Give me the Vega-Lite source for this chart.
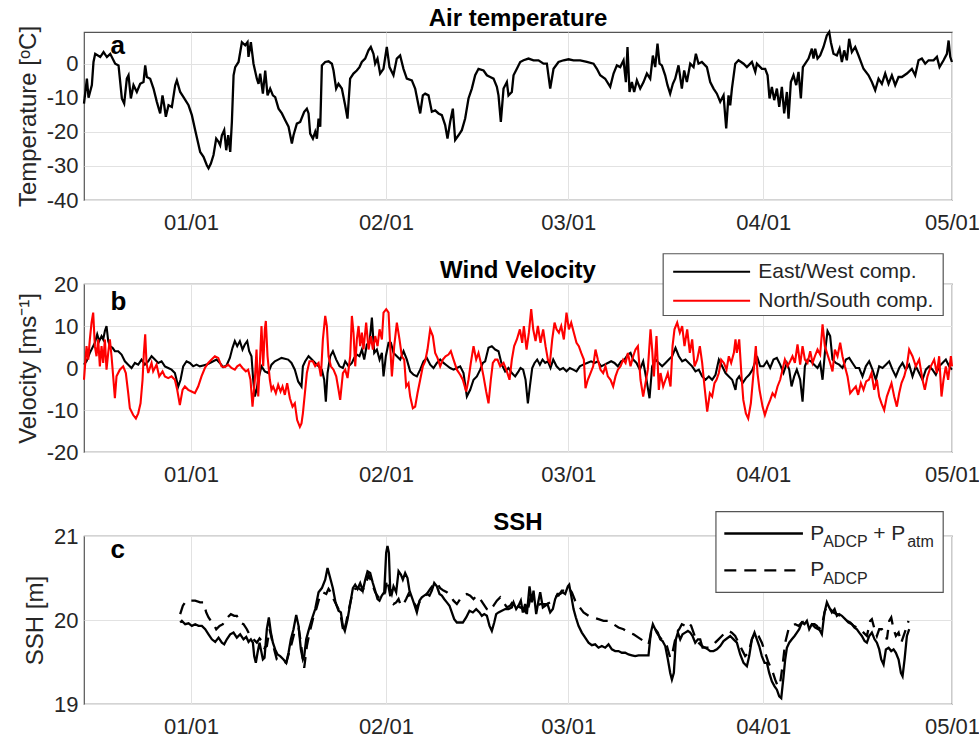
{
"$schema": "https://vega.github.io/schema/vega-lite/v6.json",
"background": "white",
"padding": {"left": 15, "top": 6, "right": 0, "bottom": 0},
"bounds": "flush",
"spacing": 84,
"config": {
  "font": "Liberation Sans",
  "view": {"stroke": "#555555", "strokeWidth": 1.2},
  "axis": {"grid": true, "gridColor": "#e2e2e2", "gridWidth": 1, "domain": false, "ticks": false,
    "labelFont": "Liberation Sans", "labelFontSize": 22, "labelColor": "#262626",
    "titleFont": "Liberation Sans", "titleFontSize": 24, "titleFontWeight": "normal", "titleColor": "#262626"},
  "axisX": {"labelPadding": 12, "labelFlush": false, "labelOverlap": false, "labelBound": false},
  "axisY": {"labelPadding": 6, "titlePadding": 6, "labelExpr": "'' + datum.value"}
},
"datasets": {
"temp": [{"d":0,"v":-11.7},{"d":0.46,"v":-4.4},{"d":0.72,"v":-10},{"d":1.25,"v":-6.3},{"d":1.51,"v":0.5},{"d":1.78,"v":2.9},{"d":2.58,"v":1.95},{"d":3.11,"v":3.4},{"d":3.64,"v":1.95},{"d":4.17,"v":2.9},{"d":4.96,"v":0},{"d":5.49,"v":-0.5},{"d":6.02,"v":-10.2},{"d":6.39,"v":-11.7},{"d":6.81,"v":-4.4},{"d":7.08,"v":-3.4},{"d":7.45,"v":-10.2},{"d":7.87,"v":-6.3},{"d":8.4,"v":-8.3},{"d":8.93,"v":-5.9},{"d":9.46,"v":-5.4},{"d":9.73,"v":-0.5},{"d":9.99,"v":-3.9},{"d":10.52,"v":-4.4},{"d":11.05,"v":-7.3},{"d":11.58,"v":-11.2},{"d":12.11,"v":-14.6},{"d":12.48,"v":-9.3},{"d":12.75,"v":-12.2},{"d":13.01,"v":-15.6},{"d":13.44,"v":-12.2},{"d":13.97,"v":-12.7},{"d":14.5,"v":-6.3},{"d":14.76,"v":-4.9},{"d":15.29,"v":-8.3},{"d":15.82,"v":-9.8},{"d":16.62,"v":-12.2},{"d":17.15,"v":-15.1},{"d":17.68,"v":-19.5},{"d":18.47,"v":-25.9},{"d":19,"v":-27.3},{"d":19.53,"v":-29.8},{"d":19.8,"v":-30.7},{"d":20.17,"v":-29.3},{"d":20.59,"v":-26.8},{"d":21.02,"v":-22},{"d":21.39,"v":-22.9},{"d":21.65,"v":-23.9},{"d":21.92,"v":-21},{"d":22.29,"v":-19.5},{"d":22.61,"v":-25.4},{"d":22.93,"v":-21},{"d":23.25,"v":-25.9},{"d":23.51,"v":-17.1},{"d":23.78,"v":-3.4},{"d":24.04,"v":-1},{"d":24.57,"v":0.5},{"d":25.1,"v":6.3},{"d":25.63,"v":5.4},{"d":26,"v":6.3},{"d":26.15,"v":2},{"d":26.53,"v":6.3},{"d":26.95,"v":0},{"d":27.48,"v":-4.4},{"d":27.75,"v":-5.9},{"d":28.01,"v":-2.9},{"d":28.44,"v":-8.8},{"d":28.81,"v":-2},{"d":29.18,"v":-9.3},{"d":29.6,"v":-7.3},{"d":30.03,"v":-9.3},{"d":30.4,"v":-9.8},{"d":30.93,"v":-13.2},{"d":31.46,"v":-14.6},{"d":31.99,"v":-16.6},{"d":32.52,"v":-18.5},{"d":33.05,"v":-23.4},{"d":33.31,"v":-21},{"d":33.84,"v":-17.6},{"d":34.37,"v":-17.1},{"d":35.01,"v":-14.1},{"d":35.43,"v":-13.2},{"d":35.7,"v":-14.6},{"d":35.96,"v":-20.5},{"d":36.39,"v":-22},{"d":36.76,"v":-20},{"d":37.03,"v":-22},{"d":37.29,"v":-16.1},{"d":37.56,"v":-18.5},{"d":37.82,"v":-0.5},{"d":38.35,"v":0.5},{"d":38.88,"v":0.7},{"d":39.41,"v":0},{"d":39.67,"v":-2},{"d":40.09,"v":-7.3},{"d":40.46,"v":-5.9},{"d":40.99,"v":-7.3},{"d":41.52,"v":-12.2},{"d":41.89,"v":-16.1},{"d":42.31,"v":-4.4},{"d":42.84,"v":-2.9},{"d":43.37,"v":-2},{"d":43.8,"v":-1},{"d":44.17,"v":0.5},{"d":44.7,"v":1.5},{"d":45.23,"v":3.9},{"d":45.6,"v":4.9},{"d":46.02,"v":2.9},{"d":46.29,"v":0},{"d":46.66,"v":1.5},{"d":47.08,"v":-2.9},{"d":47.61,"v":-1.5},{"d":48.14,"v":4.9},{"d":48.57,"v":-1},{"d":49.2,"v":-3.4},{"d":49.73,"v":1.5},{"d":50.26,"v":2.4},{"d":50.79,"v":-1.5},{"d":51.32,"v":-4.4},{"d":52.12,"v":-4.9},{"d":52.65,"v":-7.3},{"d":53.18,"v":-12.2},{"d":53.45,"v":-14.6},{"d":53.87,"v":-9.3},{"d":54.24,"v":-8.8},{"d":54.77,"v":-9.3},{"d":55.3,"v":-14.1},{"d":55.83,"v":-13.7},{"d":56.36,"v":-14.6},{"d":56.89,"v":-15.1},{"d":57.42,"v":-18},{"d":57.79,"v":-22},{"d":58.21,"v":-17.1},{"d":58.64,"v":-13.2},{"d":59.01,"v":-22.4},{"d":59.54,"v":-21},{"d":60.07,"v":-19.5},{"d":60.6,"v":-16.1},{"d":61.13,"v":-10.2},{"d":61.66,"v":-7.3},{"d":62.19,"v":-3.4},{"d":62.72,"v":-1.5},{"d":63.52,"v":-2},{"d":64.05,"v":-3.4},{"d":64.58,"v":-3.9},{"d":65.11,"v":-4.4},{"d":65.64,"v":-6.8},{"d":65.9,"v":-9.3},{"d":66.27,"v":-17.1},{"d":66.7,"v":-7.3},{"d":67.23,"v":-5.4},{"d":67.49,"v":-9.3},{"d":68.02,"v":-8.3},{"d":68.29,"v":-3.4},{"d":68.82,"v":-1.5},{"d":69.35,"v":0.5},{"d":69.88,"v":1},{"d":70.67,"v":1.5},{"d":71.47,"v":1},{"d":72.26,"v":1},{"d":73.06,"v":0},{"d":73.59,"v":0},{"d":74.12,"v":-7.3},{"d":74.65,"v":-1.5},{"d":75.44,"v":0.5},{"d":76.24,"v":1},{"d":77.04,"v":1.3},{"d":77.83,"v":1},{"d":78.89,"v":1},{"d":79.95,"v":0.5},{"d":81.01,"v":0},{"d":81.54,"v":-1.5},{"d":82.07,"v":-3.4},{"d":82.86,"v":-4.4},{"d":83.66,"v":-6.8},{"d":84.19,"v":-2.9},{"d":84.72,"v":-0.5},{"d":85.25,"v":-1},{"d":85.78,"v":1},{"d":86.15,"v":-5.4},{"d":86.41,"v":4.9},{"d":86.73,"v":-8.3},{"d":87.1,"v":-5.4},{"d":87.47,"v":-8.3},{"d":87.9,"v":-4.9},{"d":88.43,"v":-7.3},{"d":88.96,"v":-5.4},{"d":89.49,"v":-2.9},{"d":90.02,"v":-4.4},{"d":90.44,"v":2.4},{"d":90.81,"v":-1},{"d":91.18,"v":5.9},{"d":91.5,"v":0},{"d":91.87,"v":-0.5},{"d":92.4,"v":-3.4},{"d":92.77,"v":-6.3},{"d":93.19,"v":-8.8},{"d":93.62,"v":-5.9},{"d":93.99,"v":-4.4},{"d":94.52,"v":-0.5},{"d":95.05,"v":-7.3},{"d":95.42,"v":-2},{"d":95.85,"v":-5.4},{"d":96.38,"v":0},{"d":96.91,"v":-1},{"d":97.28,"v":2.9},{"d":97.7,"v":0},{"d":98.23,"v":0.5},{"d":99.03,"v":-1},{"d":99.56,"v":-5.4},{"d":100.09,"v":-7.3},{"d":100.62,"v":-8.8},{"d":101.15,"v":-11.2},{"d":101.68,"v":-9.3},{"d":102.1,"v":-19},{"d":102.47,"v":-9.3},{"d":102.74,"v":-12.2},{"d":103.01,"v":-7.3},{"d":103.54,"v":0},{"d":104.06,"v":1},{"d":104.86,"v":0},{"d":105.39,"v":-1},{"d":106.19,"v":0.5},{"d":106.72,"v":-2.4},{"d":106.98,"v":0},{"d":107.78,"v":-1.5},{"d":108.3,"v":-1.5},{"d":108.68,"v":-3.4},{"d":108.99,"v":-10.2},{"d":109.36,"v":-6.8},{"d":109.73,"v":-10.7},{"d":110.16,"v":-7.3},{"d":110.53,"v":-12.7},{"d":110.95,"v":-6.8},{"d":111.32,"v":-14.6},{"d":111.75,"v":-8.3},{"d":112.01,"v":-16.1},{"d":112.38,"v":-5.4},{"d":112.8,"v":-3.4},{"d":113.23,"v":-6.3},{"d":113.6,"v":-2.4},{"d":113.97,"v":-10.2},{"d":114.29,"v":-1},{"d":114.66,"v":0},{"d":115.19,"v":1.5},{"d":115.72,"v":4.4},{"d":115.98,"v":1.5},{"d":116.25,"v":4.4},{"d":116.62,"v":1.5},{"d":117.04,"v":2.4},{"d":117.57,"v":4.9},{"d":118.1,"v":8.3},{"d":118.48,"v":9.3},{"d":118.74,"v":6.3},{"d":119.16,"v":2.9},{"d":119.69,"v":2.4},{"d":120.12,"v":4.4},{"d":120.49,"v":0.5},{"d":120.86,"v":3.9},{"d":121.28,"v":1},{"d":121.65,"v":7.3},{"d":122.08,"v":3.4},{"d":122.61,"v":4.9},{"d":123.14,"v":2.4},{"d":123.93,"v":-1.5},{"d":124.73,"v":-3.4},{"d":125.26,"v":-5.4},{"d":125.79,"v":-7.8},{"d":126.32,"v":-4.4},{"d":126.85,"v":-5.9},{"d":127.38,"v":-2.9},{"d":127.91,"v":-5.9},{"d":128.44,"v":-3.4},{"d":128.97,"v":-6.3},{"d":129.5,"v":-3.9},{"d":130.03,"v":-3.9},{"d":130.83,"v":-2.9},{"d":131.62,"v":-1.5},{"d":132.15,"v":-3.4},{"d":132.68,"v":1},{"d":133.21,"v":1.5},{"d":133.74,"v":0},{"d":134.27,"v":1},{"d":135.07,"v":1},{"d":135.6,"v":2},{"d":136.02,"v":-1},{"d":136.66,"v":1},{"d":137.19,"v":2.9},{"d":137.46,"v":6.8},{"d":137.72,"v":2},{"d":137.99,"v":0.5}],
"ew": [{"d":0,"v":0.8},{"d":0.4,"v":1.6},{"d":0.93,"v":3.6},{"d":1.73,"v":6},{"d":2.1,"v":8},{"d":2.42,"v":6.4},{"d":2.79,"v":7.6},{"d":3.05,"v":6.8},{"d":3.32,"v":8.8},{"d":3.58,"v":10},{"d":3.85,"v":6.4},{"d":4.11,"v":5.2},{"d":4.54,"v":4.8},{"d":4.91,"v":4},{"d":5.44,"v":4},{"d":5.97,"v":3.2},{"d":6.5,"v":1.6},{"d":7.03,"v":0.8},{"d":7.56,"v":0},{"d":8.09,"v":1.2},{"d":8.62,"v":0.8},{"d":9.15,"v":2},{"d":9.68,"v":0.8},{"d":10.21,"v":1.6},{"d":10.74,"v":2.8},{"d":11.27,"v":2},{"d":11.8,"v":1.2},{"d":12.33,"v":1.6},{"d":12.86,"v":0.4},{"d":13.39,"v":0},{"d":13.92,"v":-0.4},{"d":14.45,"v":-1.2},{"d":14.98,"v":-4.4},{"d":15.35,"v":-2.8},{"d":15.77,"v":0.4},{"d":16.3,"v":1.6},{"d":16.83,"v":1.2},{"d":17.36,"v":0.4},{"d":17.89,"v":0.8},{"d":18.42,"v":0.4},{"d":18.95,"v":0.6},{"d":19.48,"v":0.8},{"d":20.01,"v":1.2},{"d":20.54,"v":1.6},{"d":21.07,"v":2},{"d":21.6,"v":1.2},{"d":22.13,"v":0.2},{"d":22.66,"v":0.6},{"d":23.19,"v":2.4},{"d":23.61,"v":4.8},{"d":23.98,"v":6.4},{"d":24.36,"v":5.2},{"d":24.78,"v":6.4},{"d":25.2,"v":4.4},{"d":25.57,"v":5.6},{"d":25.95,"v":6.4},{"d":26.26,"v":4},{"d":26.63,"v":2.8},{"d":26.9,"v":-2.8},{"d":27.16,"v":-6.8},{"d":27.43,"v":-5.2},{"d":27.7,"v":-2.8},{"d":28.22,"v":0.4},{"d":28.75,"v":-0.8},{"d":29.28,"v":-1.2},{"d":29.81,"v":0.8},{"d":30.34,"v":1.6},{"d":30.87,"v":2},{"d":31.4,"v":2.4},{"d":31.93,"v":2.2},{"d":32.46,"v":2},{"d":32.99,"v":1.2},{"d":33.52,"v":-0.4},{"d":34.05,"v":-3.2},{"d":34.58,"v":-4.4},{"d":34.8,"v":0.4},{"d":35.17,"v":1.6},{"d":35.7,"v":2.8},{"d":36.23,"v":2},{"d":36.76,"v":1.2},{"d":37.29,"v":0.4},{"d":37.82,"v":-0.4},{"d":38.19,"v":-2.8},{"d":38.45,"v":-8},{"d":38.72,"v":-1.2},{"d":39.14,"v":2.8},{"d":39.57,"v":4},{"d":40.1,"v":2},{"d":40.63,"v":0.4},{"d":41.16,"v":0},{"d":41.53,"v":1.6},{"d":42.06,"v":0.4},{"d":42.59,"v":1.2},{"d":42.96,"v":2.4},{"d":43.38,"v":3.2},{"d":43.8,"v":2.8},{"d":44.18,"v":4.4},{"d":44.55,"v":2},{"d":44.97,"v":5.6},{"d":45.39,"v":6},{"d":45.77,"v":12},{"d":46.14,"v":3.6},{"d":46.56,"v":4.4},{"d":46.99,"v":2},{"d":47.36,"v":3.6},{"d":47.62,"v":-2},{"d":47.99,"v":2.8},{"d":48.42,"v":6},{"d":48.79,"v":6},{"d":49.21,"v":3.6},{"d":49.74,"v":2.8},{"d":50.27,"v":2},{"d":50.8,"v":4},{"d":51.33,"v":2},{"d":51.86,"v":-0.8},{"d":52.39,"v":-1.6},{"d":52.92,"v":-2},{"d":53.45,"v":-0.4},{"d":53.98,"v":1.6},{"d":54.51,"v":2.4},{"d":55.04,"v":0.8},{"d":55.57,"v":0},{"d":56.1,"v":1.2},{"d":56.63,"v":2},{"d":57.16,"v":1.2},{"d":57.69,"v":0.6},{"d":58.22,"v":0},{"d":58.75,"v":-0.4},{"d":59.28,"v":0},{"d":59.81,"v":0.4},{"d":60.34,"v":-1.2},{"d":60.87,"v":-6.8},{"d":61.4,"v":-5.2},{"d":61.93,"v":-2.8},{"d":62.46,"v":-2},{"d":62.99,"v":-0.4},{"d":63.41,"v":1.2},{"d":63.78,"v":1.6},{"d":64.31,"v":4.8},{"d":64.84,"v":5.2},{"d":65.37,"v":4.4},{"d":65.9,"v":4},{"d":66.43,"v":0.8},{"d":66.96,"v":-0.8},{"d":67.49,"v":0},{"d":68.02,"v":-1.2},{"d":68.55,"v":-2},{"d":69.08,"v":-0.8},{"d":69.4,"v":0},{"d":69.82,"v":-0.4},{"d":70.2,"v":-2.8},{"d":70.57,"v":-8.4},{"d":70.89,"v":-4.4},{"d":71.26,"v":0},{"d":71.63,"v":1.2},{"d":72.05,"v":2},{"d":72.48,"v":0.8},{"d":72.9,"v":2},{"d":73.32,"v":1.2},{"d":73.75,"v":1.6},{"d":74.17,"v":0},{"d":74.6,"v":2},{"d":75.13,"v":0.4},{"d":75.66,"v":-0.4},{"d":76.18,"v":0},{"d":76.71,"v":-0.8},{"d":77.24,"v":0},{"d":77.77,"v":-0.4},{"d":78.3,"v":-0.8},{"d":78.83,"v":0.4},{"d":79.36,"v":0.8},{"d":79.98,"v":1.2},{"d":80.62,"v":1.6},{"d":81.16,"v":1.2},{"d":81.69,"v":1.6},{"d":82.22,"v":0.4},{"d":82.76,"v":0.8},{"d":83.28,"v":1.2},{"d":83.81,"v":1.6},{"d":84.34,"v":1.2},{"d":84.87,"v":0.4},{"d":85.4,"v":1.6},{"d":85.93,"v":2},{"d":86.47,"v":3.2},{"d":86.89,"v":3.6},{"d":87.31,"v":2},{"d":87.84,"v":1.2},{"d":88.37,"v":-0.4},{"d":88.9,"v":1.6},{"d":89.43,"v":-2.8},{"d":89.91,"v":-7.2},{"d":90.33,"v":0.4},{"d":90.86,"v":2},{"d":91.39,"v":1.2},{"d":91.92,"v":0.4},{"d":92.45,"v":1.2},{"d":92.98,"v":2},{"d":93.51,"v":2.8},{"d":94.04,"v":4.8},{"d":94.57,"v":2.8},{"d":95.1,"v":1.6},{"d":95.63,"v":2},{"d":96.16,"v":1.2},{"d":96.69,"v":0.4},{"d":97.22,"v":-0.8},{"d":97.75,"v":-0.4},{"d":98.28,"v":-2},{"d":98.81,"v":-2.8},{"d":99.34,"v":-2},{"d":99.87,"v":-2.8},{"d":100.4,"v":-1.6},{"d":100.93,"v":2},{"d":101.46,"v":0.4},{"d":101.99,"v":-1.2},{"d":102.52,"v":-2},{"d":103.05,"v":-2.8},{"d":103.58,"v":-5.2},{"d":103.79,"v":-2.8},{"d":104.17,"v":-2},{"d":104.7,"v":-3.6},{"d":105.23,"v":-2.4},{"d":105.76,"v":-1.6},{"d":106.28,"v":-0.4},{"d":106.66,"v":1.2},{"d":107.08,"v":2.4},{"d":107.5,"v":0.4},{"d":108.03,"v":0.4},{"d":108.56,"v":1.6},{"d":109.09,"v":0},{"d":109.62,"v":2},{"d":110.15,"v":2.4},{"d":110.68,"v":0.8},{"d":111.21,"v":-1.2},{"d":111.74,"v":1.2},{"d":112.12,"v":-0.4},{"d":112.49,"v":-4.4},{"d":112.91,"v":-2},{"d":113.33,"v":-0.4},{"d":113.86,"v":-2.8},{"d":114.24,"v":-8},{"d":114.61,"v":0.4},{"d":115.03,"v":2},{"d":115.56,"v":1.6},{"d":116.09,"v":0.8},{"d":116.62,"v":0},{"d":117.04,"v":1.2},{"d":117.42,"v":-2.8},{"d":117.79,"v":3.6},{"d":118.21,"v":8.8},{"d":118.63,"v":7.6},{"d":119,"v":2},{"d":119.53,"v":1.2},{"d":120.06,"v":0.8},{"d":120.59,"v":0},{"d":121.13,"v":2},{"d":121.66,"v":2.4},{"d":122.18,"v":1.2},{"d":122.71,"v":0},{"d":123.24,"v":0},{"d":123.77,"v":-2},{"d":124.3,"v":0.4},{"d":124.83,"v":1.6},{"d":125.36,"v":-0.4},{"d":125.89,"v":-2.8},{"d":126.42,"v":0.4},{"d":126.95,"v":0},{"d":127.48,"v":0.8},{"d":128.01,"v":1.6},{"d":128.54,"v":-0.4},{"d":129.07,"v":-2},{"d":129.6,"v":0},{"d":130.13,"v":1.2},{"d":130.66,"v":-0.4},{"d":131.19,"v":0.8},{"d":131.72,"v":-2},{"d":132.25,"v":0.4},{"d":132.78,"v":-1.2},{"d":133.31,"v":-2.8},{"d":133.84,"v":-0.4},{"d":134.37,"v":0.4},{"d":134.9,"v":-0.4},{"d":135.43,"v":-1.6},{"d":135.96,"v":0.4},{"d":136.49,"v":1.2},{"d":137.02,"v":2},{"d":137.55,"v":0.4},{"d":138,"v":-0.4}],
"ns": [{"d":0,"v":-2.8},{"d":0.14,"v":0},{"d":0.4,"v":5.2},{"d":0.67,"v":2},{"d":0.93,"v":6.8},{"d":1.2,"v":10.8},{"d":1.46,"v":13.2},{"d":1.73,"v":5.2},{"d":1.99,"v":2.8},{"d":2.26,"v":6.8},{"d":2.52,"v":0.4},{"d":2.79,"v":5.2},{"d":3.05,"v":1.2},{"d":3.32,"v":6.8},{"d":3.58,"v":-0.4},{"d":3.85,"v":3.6},{"d":4.11,"v":6.8},{"d":4.38,"v":2.8},{"d":4.64,"v":-2},{"d":4.91,"v":-7.2},{"d":5.17,"v":-2},{"d":5.7,"v":-0.4},{"d":6.23,"v":0.4},{"d":6.65,"v":-1.2},{"d":7.03,"v":-6},{"d":7.29,"v":-9.6},{"d":7.82,"v":-11.2},{"d":8.25,"v":-12},{"d":8.62,"v":-10.8},{"d":8.99,"v":-8.4},{"d":9.31,"v":-2.8},{"d":9.52,"v":3.6},{"d":9.73,"v":8},{"d":9.94,"v":1.2},{"d":10.21,"v":-1.2},{"d":10.74,"v":1.2},{"d":11,"v":-0.8},{"d":11.53,"v":0.8},{"d":11.96,"v":-2},{"d":12.49,"v":-0.8},{"d":12.86,"v":-2},{"d":13.39,"v":-2.4},{"d":13.92,"v":-2},{"d":14.45,"v":-2.8},{"d":14.82,"v":-5.2},{"d":15.24,"v":-8.8},{"d":15.67,"v":-5.2},{"d":16.04,"v":-4.4},{"d":16.57,"v":-5.2},{"d":17.1,"v":-5.6},{"d":17.63,"v":-6},{"d":18.15,"v":-4.4},{"d":18.68,"v":-2},{"d":19.22,"v":0},{"d":19.75,"v":1.2},{"d":20.28,"v":2},{"d":20.81,"v":2.8},{"d":21.34,"v":2.4},{"d":21.87,"v":0.4},{"d":22.4,"v":0.2},{"d":22.92,"v":0.8},{"d":23.45,"v":0},{"d":23.98,"v":-0.4},{"d":24.36,"v":0.4},{"d":24.78,"v":0.8},{"d":25.2,"v":0},{"d":25.73,"v":-0.8},{"d":26.1,"v":-0.4},{"d":26.47,"v":-2.8},{"d":26.79,"v":-9.2},{"d":27.16,"v":-2.8},{"d":27.43,"v":4.4},{"d":27.7,"v":-6.8},{"d":27.96,"v":1.2},{"d":28.22,"v":10},{"d":28.49,"v":0.4},{"d":28.75,"v":9.2},{"d":28.91,"v":11.2},{"d":29.18,"v":2.8},{"d":29.55,"v":-2.8},{"d":29.81,"v":-5.2},{"d":30.08,"v":-4.4},{"d":30.5,"v":-6},{"d":30.87,"v":-4},{"d":31.25,"v":-5.6},{"d":31.56,"v":-4.4},{"d":31.93,"v":-6.4},{"d":32.3,"v":-3.6},{"d":32.73,"v":-7.2},{"d":33.15,"v":-9.2},{"d":33.52,"v":-8.4},{"d":33.89,"v":-12.4},{"d":34.32,"v":-14},{"d":34.58,"v":-13.2},{"d":34.8,"v":-10.8},{"d":35.17,"v":-5.2},{"d":35.43,"v":-1.2},{"d":35.85,"v":1.6},{"d":36.38,"v":1.6},{"d":36.76,"v":0.4},{"d":37.29,"v":1.2},{"d":37.66,"v":-2},{"d":37.98,"v":6.8},{"d":38.35,"v":12.4},{"d":38.61,"v":10},{"d":38.88,"v":2.8},{"d":39.25,"v":0.4},{"d":39.67,"v":-0.4},{"d":40.1,"v":-2},{"d":40.47,"v":-5.2},{"d":40.73,"v":-7.6},{"d":41.16,"v":-1.2},{"d":41.53,"v":-0.4},{"d":41.9,"v":-2.4},{"d":42.32,"v":2.8},{"d":42.59,"v":12.4},{"d":42.85,"v":8.4},{"d":43.12,"v":0.4},{"d":43.38,"v":6.8},{"d":43.65,"v":10},{"d":43.91,"v":5.2},{"d":44.18,"v":8.4},{"d":44.44,"v":4.4},{"d":44.86,"v":10.8},{"d":45.24,"v":4.4},{"d":45.61,"v":7.6},{"d":45.93,"v":4.4},{"d":46.3,"v":7.6},{"d":46.67,"v":5.2},{"d":46.99,"v":9.2},{"d":47.36,"v":6.8},{"d":47.62,"v":13.2},{"d":48.05,"v":14},{"d":48.42,"v":13.2},{"d":48.68,"v":5.2},{"d":48.95,"v":-2},{"d":49.32,"v":5.2},{"d":49.74,"v":10.8},{"d":50.16,"v":6.8},{"d":50.53,"v":2.8},{"d":50.91,"v":2},{"d":51.22,"v":-4.4},{"d":51.59,"v":-3.6},{"d":51.86,"v":-6.8},{"d":52.28,"v":-9.6},{"d":52.65,"v":-9.2},{"d":53.02,"v":-6},{"d":53.45,"v":-2.8},{"d":53.87,"v":0.4},{"d":54.24,"v":1.6},{"d":54.61,"v":4.4},{"d":55.04,"v":9.2},{"d":55.46,"v":7.6},{"d":55.83,"v":3.6},{"d":56.2,"v":2.4},{"d":56.63,"v":0.4},{"d":57.05,"v":2},{"d":57.48,"v":2.8},{"d":57.95,"v":3.2},{"d":58.32,"v":4},{"d":58.75,"v":2},{"d":59.28,"v":-0.4},{"d":59.81,"v":-1.6},{"d":60.23,"v":-2.8},{"d":60.76,"v":-5.6},{"d":61.13,"v":-2.8},{"d":61.5,"v":1.2},{"d":61.93,"v":5.2},{"d":62.35,"v":2},{"d":62.72,"v":3.6},{"d":63.1,"v":1.2},{"d":63.52,"v":-2},{"d":63.94,"v":-5.6},{"d":64.31,"v":-8.4},{"d":64.68,"v":-2.8},{"d":65,"v":1.2},{"d":65.37,"v":2},{"d":65.74,"v":2},{"d":66.17,"v":0.4},{"d":66.7,"v":1.2},{"d":67.23,"v":-0.8},{"d":67.65,"v":-2.8},{"d":68.02,"v":2},{"d":68.39,"v":5.2},{"d":68.82,"v":6.8},{"d":69.3,"v":9.2},{"d":69.67,"v":6},{"d":69.93,"v":10},{"d":70.36,"v":4.4},{"d":70.73,"v":8.4},{"d":71.1,"v":14},{"d":71.42,"v":9.2},{"d":71.79,"v":6.4},{"d":72.16,"v":10},{"d":72.58,"v":6},{"d":73,"v":9.2},{"d":73.38,"v":5.2},{"d":73.75,"v":2},{"d":74.07,"v":1.2},{"d":74.44,"v":6.8},{"d":74.81,"v":10.8},{"d":75.13,"v":9.2},{"d":75.5,"v":8.4},{"d":75.87,"v":10},{"d":76.29,"v":6.8},{"d":76.71,"v":13.2},{"d":77.09,"v":9.2},{"d":77.46,"v":10.8},{"d":77.88,"v":8.4},{"d":78.3,"v":6},{"d":78.67,"v":5.2},{"d":79.05,"v":3.6},{"d":79.47,"v":2},{"d":79.73,"v":-4.8},{"d":80.1,"v":-2.8},{"d":80.53,"v":-1.2},{"d":80.95,"v":0.4},{"d":81.32,"v":4.4},{"d":81.69,"v":2},{"d":82.12,"v":-0.4},{"d":82.54,"v":-1.2},{"d":82.91,"v":0.4},{"d":83.28,"v":-2},{"d":83.71,"v":-2.8},{"d":84.13,"v":-4.4},{"d":84.5,"v":-2},{"d":84.88,"v":-0.4},{"d":85.3,"v":0.4},{"d":85.72,"v":2},{"d":86.1,"v":1.2},{"d":86.47,"v":3.6},{"d":86.89,"v":0.4},{"d":87.31,"v":2.8},{"d":87.68,"v":4.4},{"d":88.06,"v":5.2},{"d":88.48,"v":-2.8},{"d":88.9,"v":-6.8},{"d":89.27,"v":-3.6},{"d":89.64,"v":-0.4},{"d":90.07,"v":9.2},{"d":90.33,"v":4.4},{"d":90.6,"v":-2},{"d":91.02,"v":7.6},{"d":91.39,"v":-5.2},{"d":91.66,"v":-1.2},{"d":92.08,"v":-4.4},{"d":92.45,"v":-2.8},{"d":92.82,"v":-1.2},{"d":93.25,"v":-4.4},{"d":93.57,"v":5.2},{"d":93.88,"v":9.2},{"d":94.31,"v":10.8},{"d":94.73,"v":8.4},{"d":95.1,"v":10},{"d":95.47,"v":5.2},{"d":95.9,"v":9.2},{"d":96.32,"v":3.6},{"d":96.69,"v":6.8},{"d":97.07,"v":0.4},{"d":97.49,"v":2},{"d":97.91,"v":5.2},{"d":98.28,"v":1.2},{"d":98.65,"v":-4.4},{"d":99.08,"v":-10.4},{"d":99.5,"v":-6},{"d":99.87,"v":-6.8},{"d":100.24,"v":-3.6},{"d":100.56,"v":-2.8},{"d":100.93,"v":-1.2},{"d":101.3,"v":2},{"d":101.73,"v":1.2},{"d":102.15,"v":-0.4},{"d":102.52,"v":2.8},{"d":102.89,"v":1.2},{"d":103.32,"v":3.6},{"d":103.58,"v":6.8},{"d":103.79,"v":3.6},{"d":104.17,"v":6.8},{"d":104.54,"v":-2},{"d":104.82,"v":-7.6},{"d":105.23,"v":-10.8},{"d":105.6,"v":-12},{"d":106.02,"v":-8.4},{"d":106.44,"v":-1.2},{"d":106.81,"v":5.2},{"d":107.08,"v":-1.2},{"d":107.4,"v":-5.2},{"d":107.88,"v":-9.2},{"d":108.25,"v":-11.2},{"d":108.67,"v":-9.2},{"d":109.1,"v":-7.6},{"d":109.47,"v":-6},{"d":109.84,"v":-6.8},{"d":110.26,"v":-4.4},{"d":110.68,"v":-2.8},{"d":111.05,"v":-0.4},{"d":111.43,"v":2},{"d":111.85,"v":0.4},{"d":112.27,"v":1.6},{"d":112.64,"v":2.8},{"d":113.02,"v":1.2},{"d":113.44,"v":5.6},{"d":113.86,"v":0.8},{"d":114.24,"v":5.2},{"d":114.61,"v":2},{"d":115.03,"v":1.2},{"d":115.46,"v":4},{"d":115.83,"v":1.2},{"d":116.2,"v":2.8},{"d":116.62,"v":4.4},{"d":117.04,"v":3.2},{"d":117.42,"v":10.4},{"d":117.79,"v":5.2},{"d":118.21,"v":3.2},{"d":118.63,"v":1.2},{"d":119,"v":-0.8},{"d":119.38,"v":4.4},{"d":119.8,"v":2.8},{"d":120.22,"v":6},{"d":120.59,"v":2.8},{"d":120.97,"v":0.4},{"d":121.39,"v":-2},{"d":121.81,"v":-6},{"d":122.24,"v":-5.2},{"d":122.71,"v":-4.4},{"d":123.08,"v":-6.4},{"d":123.51,"v":-3.6},{"d":123.93,"v":-5.2},{"d":124.35,"v":-3.2},{"d":124.78,"v":-2.8},{"d":125.2,"v":-1.2},{"d":125.63,"v":-5.2},{"d":126.05,"v":-2.8},{"d":126.42,"v":-6.8},{"d":126.79,"v":-8.4},{"d":127.22,"v":-10},{"d":127.64,"v":-6.8},{"d":128.01,"v":-5.2},{"d":128.38,"v":-3.6},{"d":128.81,"v":-6.8},{"d":129.23,"v":-9.2},{"d":129.6,"v":-6},{"d":129.97,"v":-3.6},{"d":130.4,"v":-2},{"d":130.82,"v":0.4},{"d":131.19,"v":4.4},{"d":131.72,"v":2.8},{"d":132.25,"v":0.4},{"d":132.78,"v":2},{"d":133.31,"v":-2.8},{"d":133.68,"v":-5.2},{"d":134.1,"v":-2},{"d":134.63,"v":0.4},{"d":135.16,"v":2},{"d":135.59,"v":-1.2},{"d":135.96,"v":2.8},{"d":136.33,"v":-6.8},{"d":136.65,"v":-2.8},{"d":137.02,"v":0.4},{"d":137.39,"v":-2.8},{"d":137.82,"v":2.8},{"d":138,"v":0.4}],
"ssh1": [{"d":15.29,"v":19.97},{"d":15.56,"v":19.99},{"d":16.09,"v":19.95},{"d":16.62,"v":19.96},{"d":17.15,"v":19.93},{"d":17.68,"v":19.95},{"d":18.21,"v":19.93},{"d":18.74,"v":19.93},{"d":19.27,"v":19.89},{"d":19.8,"v":19.83},{"d":20.33,"v":19.77},{"d":20.86,"v":19.74},{"d":21.39,"v":19.79},{"d":21.92,"v":19.73},{"d":22.29,"v":19.71},{"d":22.71,"v":19.77},{"d":23.24,"v":19.83},{"d":23.77,"v":19.85},{"d":24.3,"v":19.79},{"d":24.83,"v":19.83},{"d":25.36,"v":19.77},{"d":25.79,"v":19.8},{"d":26.16,"v":19.74},{"d":26.53,"v":19.77},{"d":26.85,"v":19.73},{"d":27.06,"v":19.57},{"d":27.32,"v":19.49},{"d":27.59,"v":19.61},{"d":27.91,"v":19.73},{"d":28.12,"v":19.65},{"d":28.44,"v":19.53},{"d":28.7,"v":19.55},{"d":29.07,"v":19.89},{"d":29.39,"v":20.03},{"d":29.71,"v":19.85},{"d":30.03,"v":19.73},{"d":30.39,"v":19.65},{"d":30.77,"v":19.59},{"d":31.19,"v":19.57},{"d":31.72,"v":19.53},{"d":32.15,"v":19.49},{"d":32.52,"v":19.61},{"d":32.89,"v":19.77},{"d":33.31,"v":19.89},{"d":33.74,"v":20.06},{"d":34.11,"v":19.93},{"d":34.48,"v":19.65},{"d":34.8,"v":19.53},{"d":35.01,"v":19.57},{"d":35.33,"v":19.77},{"d":35.69,"v":19.87},{"d":36.23,"v":20.01},{"d":36.76,"v":20.13},{"d":37.29,"v":20.33},{"d":37.82,"v":20.38},{"d":38.35,"v":20.48},{"d":38.72,"v":20.62},{"d":39.14,"v":20.5},{"d":39.56,"v":20.38},{"d":39.99,"v":20.21},{"d":40.47,"v":20.11},{"d":40.84,"v":20.09},{"d":41.15,"v":19.93},{"d":41.47,"v":19.87},{"d":41.9,"v":20.01},{"d":42.32,"v":20.19},{"d":42.75,"v":20.38},{"d":43.11,"v":20.42},{"d":43.49,"v":20.37},{"d":43.91,"v":20.44},{"d":44.33,"v":20.35},{"d":44.71,"v":20.48},{"d":45.08,"v":20.58},{"d":45.5,"v":20.56},{"d":45.92,"v":20.44},{"d":46.29,"v":20.35},{"d":46.67,"v":20.25},{"d":46.98,"v":20.23},{"d":47.35,"v":20.29},{"d":47.73,"v":20.33},{"d":48.04,"v":20.8},{"d":48.25,"v":20.88},{"d":48.47,"v":20.8},{"d":48.68,"v":20.37},{"d":48.94,"v":20.31},{"d":49.21,"v":20.4},{"d":49.63,"v":20.33},{"d":50.01,"v":20.58},{"d":50.38,"v":20.54},{"d":50.69,"v":20.48},{"d":51.06,"v":20.56},{"d":51.43,"v":20.5},{"d":51.75,"v":20.35},{"d":52.13,"v":20.27},{"d":52.5,"v":20.19},{"d":52.92,"v":20.09},{"d":53.34,"v":20.23},{"d":53.71,"v":20.27},{"d":54.08,"v":20.29},{"d":54.51,"v":20.31},{"d":54.93,"v":20.29},{"d":55.3,"v":20.35},{"d":55.68,"v":20.44},{"d":56.1,"v":20.4},{"d":56.52,"v":20.31},{"d":56.89,"v":20.29},{"d":57.26,"v":20.25},{"d":57.69,"v":20.21},{"d":58.11,"v":20.17},{"d":58.48,"v":20.09},{"d":58.86,"v":20.01},{"d":59.28,"v":19.97},{"d":59.71,"v":19.97},{"d":60.23,"v":19.97},{"d":60.76,"v":20.03},{"d":61.29,"v":20.11},{"d":61.82,"v":20.09},{"d":62.35,"v":20.13},{"d":62.88,"v":20.09},{"d":63.25,"v":20.05},{"d":63.63,"v":20.07},{"d":64.05,"v":20.05},{"d":64.47,"v":19.93},{"d":64.84,"v":19.87},{"d":65.22,"v":19.97},{"d":65.53,"v":20.07},{"d":65.9,"v":20.09},{"d":66.43,"v":20.11},{"d":66.96,"v":20.13},{"d":67.49,"v":20.13},{"d":68.02,"v":20.15},{"d":68.29,"v":20.21},{"d":68.71,"v":20.13},{"d":69.08,"v":20.17},{"d":69.45,"v":20.23},{"d":69.77,"v":20.09},{"d":70.14,"v":20.19},{"d":70.41,"v":20.07},{"d":70.83,"v":20.4},{"d":71.2,"v":20.21},{"d":71.47,"v":20.35},{"d":71.89,"v":20.07},{"d":72.26,"v":20.23},{"d":72.53,"v":20.33},{"d":72.95,"v":20.15},{"d":73.32,"v":20.17},{"d":73.69,"v":20.19},{"d":74.12,"v":20.09},{"d":74.54,"v":20.13},{"d":74.91,"v":20.25},{"d":75.28,"v":20.31},{"d":75.71,"v":20.31},{"d":76.08,"v":20.33},{"d":76.5,"v":20.31},{"d":76.93,"v":20.4},{"d":77.14,"v":20.42},{"d":77.46,"v":20.29},{"d":77.83,"v":20.13},{"d":78.2,"v":20.03},{"d":78.62,"v":19.93},{"d":79.15,"v":19.85},{"d":79.68,"v":19.79},{"d":80.21,"v":19.73},{"d":80.74,"v":19.7},{"d":81.27,"v":19.71},{"d":81.8,"v":19.67},{"d":82.33,"v":19.69},{"d":82.86,"v":19.67},{"d":83.39,"v":19.71},{"d":83.92,"v":19.65},{"d":84.45,"v":19.63},{"d":84.98,"v":19.63},{"d":85.51,"v":19.61},{"d":86.04,"v":19.61},{"d":86.57,"v":19.59},{"d":87.1,"v":19.58},{"d":87.63,"v":19.57},{"d":88.16,"v":19.58},{"d":88.69,"v":19.58},{"d":89.22,"v":19.58},{"d":89.75,"v":19.58},{"d":90.12,"v":19.85},{"d":90.44,"v":19.95},{"d":90.81,"v":19.89},{"d":91.23,"v":19.85},{"d":91.61,"v":19.77},{"d":91.98,"v":19.75},{"d":92.41,"v":19.69},{"d":92.83,"v":19.53},{"d":93.2,"v":19.37},{"d":93.47,"v":19.29},{"d":93.78,"v":19.37},{"d":94.1,"v":19.77},{"d":94.42,"v":19.85},{"d":94.79,"v":19.77},{"d":95.16,"v":19.83},{"d":95.58,"v":19.85},{"d":96.01,"v":19.87},{"d":96.38,"v":19.85},{"d":96.75,"v":19.81},{"d":97.18,"v":19.73},{"d":97.6,"v":19.77},{"d":97.97,"v":19.77},{"d":98.34,"v":19.67},{"d":98.77,"v":19.67},{"d":99.19,"v":19.65},{"d":99.56,"v":19.63},{"d":100.09,"v":19.63},{"d":100.62,"v":19.65},{"d":101.15,"v":19.69},{"d":101.68,"v":19.75},{"d":102.21,"v":19.78},{"d":102.74,"v":19.81},{"d":103.27,"v":19.77},{"d":103.8,"v":19.73},{"d":104.33,"v":19.59},{"d":104.86,"v":19.49},{"d":105.39,"v":19.45},{"d":105.76,"v":19.57},{"d":106.18,"v":19.77},{"d":106.6,"v":19.85},{"d":106.98,"v":19.77},{"d":107.35,"v":19.69},{"d":107.77,"v":19.57},{"d":108.2,"v":19.49},{"d":108.57,"v":19.49},{"d":108.94,"v":19.37},{"d":109.36,"v":19.27},{"d":109.79,"v":19.21},{"d":110.16,"v":19.17},{"d":110.53,"v":19.09},{"d":110.85,"v":19.07},{"d":111.22,"v":19.33},{"d":111.48,"v":19.53},{"d":111.75,"v":19.67},{"d":112.12,"v":19.73},{"d":112.54,"v":19.77},{"d":112.97,"v":19.81},{"d":113.34,"v":19.85},{"d":113.71,"v":19.89},{"d":114.13,"v":19.97},{"d":114.55,"v":19.95},{"d":114.93,"v":19.99},{"d":115.3,"v":19.89},{"d":115.72,"v":19.95},{"d":116.14,"v":19.95},{"d":116.51,"v":19.93},{"d":116.89,"v":19.89},{"d":117.31,"v":19.83},{"d":117.73,"v":20.09},{"d":118.11,"v":20.21},{"d":118.48,"v":20.15},{"d":118.9,"v":20.09},{"d":119.33,"v":20.13},{"d":119.7,"v":20.05},{"d":120.07,"v":20.07},{"d":120.49,"v":20.05},{"d":121.02,"v":20.01},{"d":121.55,"v":19.97},{"d":122.08,"v":19.95},{"d":122.5,"v":19.91},{"d":122.88,"v":19.89},{"d":123.25,"v":19.85},{"d":123.67,"v":19.81},{"d":124.1,"v":19.75},{"d":124.47,"v":19.73},{"d":124.84,"v":19.81},{"d":125.26,"v":19.85},{"d":125.69,"v":19.77},{"d":126.06,"v":19.73},{"d":126.43,"v":19.65},{"d":126.75,"v":19.53},{"d":127.12,"v":19.47},{"d":127.49,"v":19.65},{"d":127.92,"v":19.67},{"d":128.34,"v":19.63},{"d":128.71,"v":19.65},{"d":129.08,"v":19.61},{"d":129.51,"v":19.53},{"d":129.88,"v":19.37},{"d":130.14,"v":19.33},{"d":130.46,"v":19.53},{"d":130.83,"v":19.81},{"d":131.2,"v":19.89}],
"ssh2": [{"d":15.29,"v":20.07},{"d":15.72,"v":20.17},{"d":16.25,"v":20.23},{"d":16.88,"v":20.23},{"d":17.68,"v":20.23},{"d":18.47,"v":20.21},{"d":19,"v":20.21},{"d":19.43,"v":20.09},{"d":19.8,"v":20.03},{"d":20.17,"v":19.99},{"d":20.59,"v":19.95},{"d":21.02,"v":19.89},{"d":21.55,"v":19.93},{"d":22.08,"v":19.95},{"d":22.45,"v":20.01},{"d":22.82,"v":20.03},{"d":23.35,"v":20.07},{"d":23.88,"v":20.05},{"d":24.3,"v":20.05},{"d":24.83,"v":19.97},{"d":25.36,"v":19.95},{"d":25.89,"v":19.89},{"d":26.42,"v":19.81},{"d":26.96,"v":19.77},{"d":27.49,"v":19.73},{"d":27.91,"v":19.78},{"d":28.28,"v":19.75},{"d":28.65,"v":19.67},{"d":29.07,"v":19.69},{"d":29.5,"v":19.89},{"d":29.87,"v":19.77},{"d":30.24,"v":19.65},{"d":30.66,"v":19.53},{"d":31.09,"v":19.51},{"d":31.62,"v":19.51},{"d":32.15,"v":19.49},{"d":32.52,"v":19.59},{"d":33.05,"v":19.73},{"d":33.58,"v":19.89},{"d":34.11,"v":19.91},{"d":34.48,"v":19.73},{"d":34.8,"v":19.53},{"d":35.01,"v":19.43},{"d":35.43,"v":19.69},{"d":35.86,"v":19.85},{"d":36.39,"v":20.01},{"d":36.92,"v":20.13},{"d":37.45,"v":20.27},{"d":37.98,"v":20.33},{"d":38.51,"v":20.31},{"d":38.88,"v":20.37},{"d":39.25,"v":20.33},{"d":39.67,"v":20.25},{"d":40.2,"v":20.17},{"d":40.73,"v":20.09},{"d":41.26,"v":19.85},{"d":41.68,"v":19.97},{"d":42.06,"v":20.11},{"d":42.59,"v":20.29},{"d":43.11,"v":20.37},{"d":43.65,"v":20.38},{"d":44.18,"v":20.35},{"d":44.71,"v":20.4},{"d":45.24,"v":20.54},{"d":45.77,"v":20.44},{"d":46.3,"v":20.33},{"d":46.82,"v":20.27},{"d":47.35,"v":20.25},{"d":47.88,"v":20.33},{"d":48.15,"v":20.48},{"d":48.41,"v":20.4},{"d":48.78,"v":20.25},{"d":49.21,"v":20.19},{"d":49.63,"v":20.21},{"d":50.01,"v":20.25},{"d":50.38,"v":20.17},{"d":50.8,"v":20.19},{"d":51.22,"v":20.25},{"d":51.59,"v":20.31},{"d":51.97,"v":20.25},{"d":52.39,"v":20.21},{"d":52.92,"v":20.15},{"d":53.45,"v":20.23},{"d":53.98,"v":20.27},{"d":54.51,"v":20.31},{"d":55.04,"v":20.37},{"d":55.57,"v":20.42},{"d":56.1,"v":20.44},{"d":56.63,"v":20.38},{"d":57.16,"v":20.35},{"d":57.69,"v":20.33},{"d":58.22,"v":20.29},{"d":58.75,"v":20.23},{"d":59.28,"v":20.19},{"d":59.81,"v":20.25},{"d":60.34,"v":20.29},{"d":60.87,"v":20.31},{"d":61.4,"v":20.29},{"d":61.93,"v":20.25},{"d":62.46,"v":20.29},{"d":62.99,"v":20.25},{"d":63.52,"v":20.19},{"d":64.05,"v":20.13},{"d":64.58,"v":20.11},{"d":65.11,"v":20.17},{"d":65.64,"v":20.23},{"d":66.17,"v":20.27},{"d":66.7,"v":20.21},{"d":67.23,"v":20.15},{"d":67.76,"v":20.17},{"d":68.29,"v":20.23},{"d":68.82,"v":20.17},{"d":69.35,"v":20.15},{"d":69.88,"v":20.13},{"d":70.41,"v":20.07},{"d":70.94,"v":20.25},{"d":71.47,"v":20.21},{"d":72,"v":20.17},{"d":72.53,"v":20.19},{"d":73.06,"v":20.19},{"d":73.59,"v":20.19},{"d":74.12,"v":20.21},{"d":74.65,"v":20.23},{"d":75.18,"v":20.29},{"d":75.44,"v":20.29},{"d":75.97,"v":20.35},{"d":76.5,"v":20.35},{"d":77.03,"v":20.38},{"d":77.56,"v":20.33},{"d":78.09,"v":20.23},{"d":78.62,"v":20.17},{"d":79.42,"v":20.09},{"d":80.21,"v":20.05},{"d":81.01,"v":20.03},{"d":81.8,"v":20.01},{"d":82.6,"v":19.99},{"d":83.39,"v":19.99},{"d":84.19,"v":19.95},{"d":84.98,"v":19.91},{"d":85.78,"v":19.89},{"d":86.57,"v":19.85},{"d":87.37,"v":19.83},{"d":88.16,"v":19.79},{"d":88.96,"v":19.75},{"d":89.75,"v":19.71},{"d":90.28,"v":19.89},{"d":90.7,"v":19.91},{"d":91.07,"v":19.85},{"d":91.6,"v":19.79},{"d":92.13,"v":19.75},{"d":92.67,"v":19.69},{"d":93.2,"v":19.55},{"d":93.46,"v":19.57},{"d":93.88,"v":19.73},{"d":94.25,"v":19.85},{"d":94.63,"v":19.89},{"d":95.05,"v":19.95},{"d":95.58,"v":19.93},{"d":96.11,"v":19.97},{"d":96.53,"v":19.93},{"d":96.91,"v":19.85},{"d":97.28,"v":19.77},{"d":97.7,"v":19.73},{"d":98.23,"v":19.69},{"d":98.76,"v":19.67},{"d":99.29,"v":19.67},{"d":99.82,"v":19.69},{"d":100.35,"v":19.73},{"d":100.88,"v":19.77},{"d":101.41,"v":19.81},{"d":101.94,"v":19.85},{"d":102.47,"v":19.87},{"d":103,"v":19.85},{"d":103.53,"v":19.81},{"d":104.06,"v":19.73},{"d":104.59,"v":19.65},{"d":105.12,"v":19.57},{"d":105.65,"v":19.61},{"d":106.18,"v":19.77},{"d":106.71,"v":19.85},{"d":107.24,"v":19.81},{"d":107.77,"v":19.73},{"d":108.3,"v":19.61},{"d":108.83,"v":19.49},{"d":109.36,"v":19.41},{"d":109.89,"v":19.29},{"d":110.31,"v":19.21},{"d":110.68,"v":19.25},{"d":111.05,"v":19.45},{"d":111.48,"v":19.73},{"d":112.01,"v":19.89},{"d":112.54,"v":19.93},{"d":113.07,"v":19.95},{"d":113.6,"v":19.93},{"d":114.13,"v":19.97},{"d":114.66,"v":19.99},{"d":115.19,"v":19.97},{"d":115.72,"v":19.95},{"d":116.25,"v":19.91},{"d":116.78,"v":19.89},{"d":117.31,"v":19.93},{"d":117.73,"v":20.09},{"d":118.11,"v":20.17},{"d":118.64,"v":20.13},{"d":119.17,"v":20.09},{"d":119.7,"v":20.07},{"d":120.23,"v":20.05},{"d":120.76,"v":20.01},{"d":121.29,"v":19.99},{"d":121.82,"v":19.97},{"d":122.35,"v":19.93},{"d":122.88,"v":19.91},{"d":123.41,"v":19.89},{"d":123.94,"v":19.85},{"d":124.47,"v":19.81},{"d":125,"v":19.99},{"d":125.26,"v":20.01},{"d":125.69,"v":19.89},{"d":126.06,"v":19.81},{"d":126.43,"v":19.89},{"d":126.86,"v":19.89},{"d":127.28,"v":19.85},{"d":127.65,"v":19.77},{"d":128.02,"v":19.99},{"d":128.34,"v":20.03},{"d":128.71,"v":19.89},{"d":129.08,"v":19.81},{"d":129.51,"v":19.85},{"d":129.93,"v":19.73},{"d":130.3,"v":19.81},{"d":130.67,"v":19.89},{"d":131.09,"v":19.99}],
"one": [{}]
},
"vconcat": [
{
  "width": 868, "height": 168,
  "layer": [
    {"data": {"name": "temp"}, "mark": {"type": "line", "color": "#000000", "strokeWidth": 2.3},
     "encoding": {
       "x": {"field": "d", "type": "quantitative", "scale": {"domain": [0, 138], "nice": false, "zero": false},
             "axis": {"title": null, "values": [17, 48, 77, 108, 138], "labelExpr": "datum.value==17?'01/01':datum.value==48?'02/01':datum.value==77?'03/01':datum.value==108?'04/01':'05/01'"}},
       "y": {"field": "v", "type": "quantitative", "scale": {"domain": [-40, 9.3], "nice": false, "zero": false},
             "axis": {"title": "Temperature [ᵒC]", "values": [-40, -30, -20, -10, 0]}}}},
    {"data": {"name": "one"}, "mark": {"type": "text", "text": "a", "fontSize": 26, "fontWeight": "bold", "align": "left", "baseline": "alphabetic", "color": "#000000"},
     "encoding": {"x": {"datum": 4.2, "type": "quantitative"}, "y": {"datum": 2.9, "type": "quantitative"}}},
    {"data": {"name": "one"}, "mark": {"type": "text", "text": "Air temperature", "fontSize": 24, "fontWeight": "bold", "align": "center", "baseline": "alphabetic", "color": "#000000"},
     "encoding": {"x": {"datum": 69, "type": "quantitative"}, "y": {"datum": 11.06, "type": "quantitative"}}}
  ]
},
{
  "width": 868, "height": 168,
  "layer": [
    {"data": {"name": "ew"}, "mark": {"type": "line", "color": "#000000", "strokeWidth": 2.1},
     "encoding": {
       "x": {"field": "d", "type": "quantitative", "scale": {"domain": [0, 138], "nice": false, "zero": false},
             "axis": {"title": null, "values": [17, 48, 77, 108, 138], "labelExpr": "datum.value==17?'01/01':datum.value==48?'02/01':datum.value==77?'03/01':datum.value==108?'04/01':'05/01'"}},
       "y": {"field": "v", "type": "quantitative", "scale": {"domain": [-20, 20], "nice": false, "zero": false},
             "axis": {"title": "Velocity [ms⁻¹]", "values": [-20, -10, 0, 10, 20]}}}},
    {"data": {"name": "ns"}, "mark": {"type": "line", "color": "#ff0000", "strokeWidth": 2.1},
     "encoding": {"x": {"field": "d", "type": "quantitative"}, "y": {"field": "v", "type": "quantitative"}}},
    {"data": {"name": "one"}, "mark": {"type": "text", "text": "b", "fontSize": 26, "fontWeight": "bold", "align": "left", "baseline": "alphabetic", "color": "#000000"},
     "encoding": {"x": {"datum": 4.2, "type": "quantitative"}, "y": {"datum": 13.9, "type": "quantitative"}}},
    {"data": {"name": "one"}, "mark": {"type": "text", "text": "Wind Velocity", "fontSize": 24, "fontWeight": "bold", "align": "center", "baseline": "alphabetic", "color": "#000000"},
     "encoding": {"x": {"datum": 69, "type": "quantitative"}, "y": {"datum": 21.43, "type": "quantitative"}}},
    {"data": {"name": "one"}, "mark": {"type": "rect", "fill": "#ffffff", "stroke": "#555555", "strokeWidth": 1.2},
     "encoding": {"x": {"datum": 92.08, "type": "quantitative"}, "x2": {"datum": 136.6}, "y": {"datum": 27.2, "type": "quantitative"}, "y2": {"datum": 12.5}}},
    {"data": {"name": "one"}, "mark": {"type": "rule", "color": "#000000", "strokeWidth": 2.1},
     "encoding": {"x": {"datum": 93.67, "type": "quantitative"}, "x2": {"datum": 105.9}, "y": {"datum": 22.9, "type": "quantitative"}}},
    {"data": {"name": "one"}, "mark": {"type": "rule", "color": "#ff0000", "strokeWidth": 2.1},
     "encoding": {"x": {"datum": 93.67, "type": "quantitative"}, "x2": {"datum": 105.9}, "y": {"datum": 16.0, "type": "quantitative"}}},
    {"data": {"name": "one"}, "mark": {"type": "text", "text": "East/West comp.", "fontSize": 21, "align": "left", "baseline": "middle", "color": "#262626"},
     "encoding": {"x": {"datum": 107.2, "type": "quantitative"}, "y": {"datum": 22.9, "type": "quantitative"}}},
    {"data": {"name": "one"}, "mark": {"type": "text", "text": "North/South comp.", "fontSize": 21, "align": "left", "baseline": "middle", "color": "#262626"},
     "encoding": {"x": {"datum": 107.2, "type": "quantitative"}, "y": {"datum": 16.0, "type": "quantitative"}}}
  ]
},
{
  "width": 868, "height": 168,
  "layer": [
    {"data": {"name": "ssh1"}, "mark": {"type": "line", "color": "#000000", "strokeWidth": 2.3},
     "encoding": {
       "x": {"field": "d", "type": "quantitative", "scale": {"domain": [0, 138], "nice": false, "zero": false},
             "axis": {"title": null, "values": [17, 48, 77, 108, 138], "labelExpr": "datum.value==17?'01/01':datum.value==48?'02/01':datum.value==77?'03/01':datum.value==108?'04/01':'05/01'"}},
       "y": {"field": "v", "type": "quantitative", "scale": {"domain": [19, 21], "nice": false, "zero": false},
             "axis": {"title": "SSH [m]", "values": [19, 20, 21]}}}},
    {"data": {"name": "ssh2"}, "mark": {"type": "line", "color": "#000000", "strokeWidth": 2.3, "strokeDash": [12, 8]},
     "encoding": {"x": {"field": "d", "type": "quantitative"}, "y": {"field": "v", "type": "quantitative"}}},
    {"data": {"name": "one"}, "mark": {"type": "text", "text": "c", "fontSize": 26, "fontWeight": "bold", "align": "left", "baseline": "alphabetic", "color": "#000000"},
     "encoding": {"x": {"datum": 4.2, "type": "quantitative"}, "y": {"datum": 20.735, "type": "quantitative"}}},
    {"data": {"name": "one"}, "mark": {"type": "text", "text": "SSH", "fontSize": 24, "fontWeight": "bold", "align": "center", "baseline": "alphabetic", "color": "#000000"},
     "encoding": {"x": {"datum": 69, "type": "quantitative"}, "y": {"datum": 21.071, "type": "quantitative"}}},
    {"data": {"name": "one"}, "mark": {"type": "rect", "fill": "#ffffff", "stroke": "#555555", "strokeWidth": 1.2},
     "encoding": {"x": {"datum": 100.47, "type": "quantitative"}, "x2": {"datum": 136.6}, "y": {"datum": 21.29, "type": "quantitative"}, "y2": {"datum": 20.33}}},
    {"data": {"name": "one"}, "mark": {"type": "rule", "color": "#000000", "strokeWidth": 2.3},
     "encoding": {"x": {"datum": 101.8, "type": "quantitative"}, "x2": {"datum": 114.3}, "y": {"datum": 21.03, "type": "quantitative"}}},
    {"data": {"name": "one"}, "mark": {"type": "rule", "color": "#000000", "strokeWidth": 2.3, "strokeDash": [12, 8]},
     "encoding": {"x": {"datum": 101.8, "type": "quantitative"}, "x2": {"datum": 113.1}, "y": {"datum": 20.59, "type": "quantitative"}}},
    {"data": {"name": "one"}, "mark": {"type": "text", "text": "P", "fontSize": 21, "align": "left", "baseline": "alphabetic", "color": "#262626"},
     "encoding": {"x": {"datum": 115.45, "type": "quantitative"}, "y": {"datum": 20.952, "type": "quantitative"}}},
    {"data": {"name": "one"}, "mark": {"type": "text", "text": "ADCP", "fontSize": 16, "align": "left", "baseline": "alphabetic", "color": "#262626"},
     "encoding": {"x": {"datum": 117.52, "type": "quantitative"}, "y": {"datum": 20.87, "type": "quantitative"}}},
    {"data": {"name": "one"}, "mark": {"type": "text", "text": "+ P", "fontSize": 21, "align": "left", "baseline": "alphabetic", "color": "#262626"},
     "encoding": {"x": {"datum": 125.47, "type": "quantitative"}, "y": {"datum": 20.952, "type": "quantitative"}}},
    {"data": {"name": "one"}, "mark": {"type": "text", "text": "atm", "fontSize": 16, "align": "left", "baseline": "alphabetic", "color": "#262626"},
     "encoding": {"x": {"datum": 130.88, "type": "quantitative"}, "y": {"datum": 20.87, "type": "quantitative"}}},
    {"data": {"name": "one"}, "mark": {"type": "text", "text": "P", "fontSize": 21, "align": "left", "baseline": "alphabetic", "color": "#262626"},
     "encoding": {"x": {"datum": 115.45, "type": "quantitative"}, "y": {"datum": 20.52, "type": "quantitative"}}},
    {"data": {"name": "one"}, "mark": {"type": "text", "text": "ADCP", "fontSize": 16, "align": "left", "baseline": "alphabetic", "color": "#262626"},
     "encoding": {"x": {"datum": 117.52, "type": "quantitative"}, "y": {"datum": 20.424, "type": "quantitative"}}}
  ]
}
]
}
